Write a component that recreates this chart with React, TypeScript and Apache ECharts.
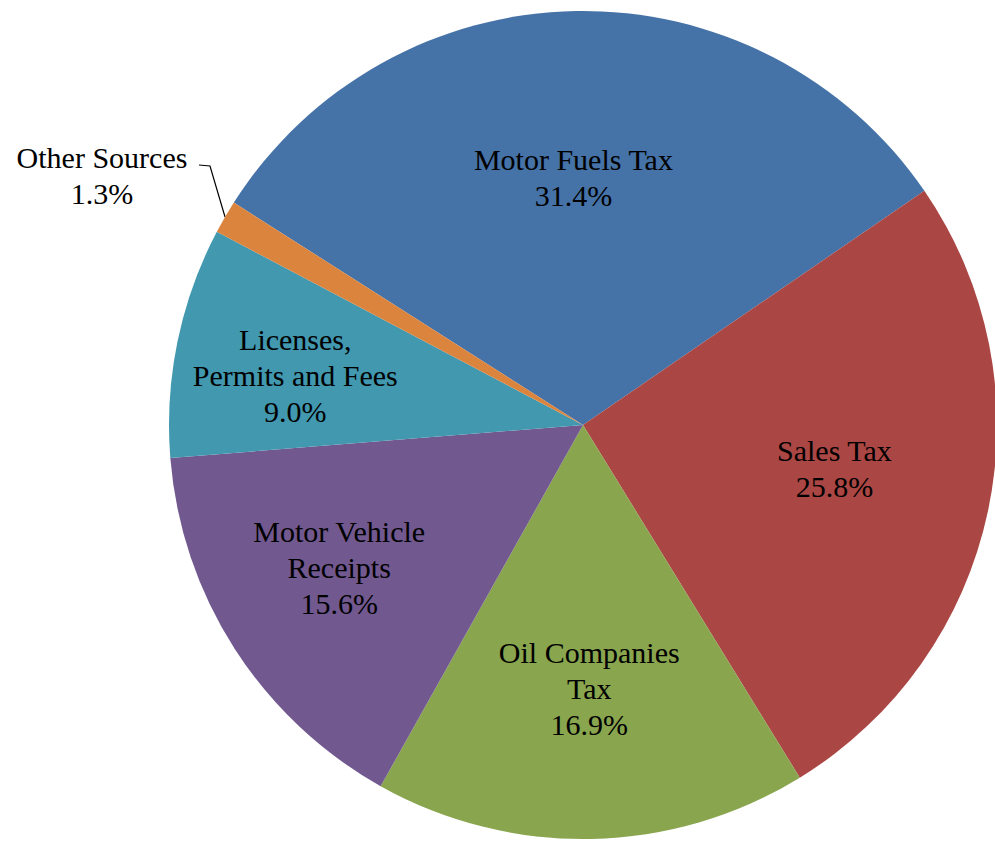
import React, { useEffect, useRef } from "react";
import * as echarts from "echarts";

const categories = [
  "Motor Fuels Tax",
  "Sales Tax",
  "Oil Companies\nTax",
  "Motor Vehicle\nReceipts",
  "Licenses,\nPermits and Fees",
  "Other Sources",
];
const shares = [31.4, 25.8, 16.9, 15.6, 9.0, 1.3];
const colors = ["#4572A7", "#AA4643", "#89A54E", "#71588F", "#4198AF", "#DB843D"];
// label nudges (style only): [dx, dy]
const labelNudges = [
  [-6, -38],
  [46, 0],
  [2, 54],
  [-67, 29],
  [-82, -7],
  [0, 0],
];

const CX = 583;
const CY = 425;
const R = 414;
const START = 147.5;

export default function App() {
  const ref = useRef<HTMLDivElement>(null);
  useEffect(() => {
    if (!ref.current) return;
    const chart = echarts.init(ref.current, null, { renderer: "svg" });
    const total = shares.reduce((a, b) => a + b, 0);
    const data = shares.map((v, i) => {
      const item: any = {
        name: categories[i],
        value: v,
        itemStyle: { color: colors[i] },
      };
      if (i === shares.length - 1) {
        item.label = { position: "outside", align: "center" };
        item.labelLine = { show: true, length: 10, length2: 10 };
      }
      return item;
    });
    chart.setOption({
      animation: false,
      series: [
        {
          type: "pie",
          center: [CX, CY],
          radius: [0, R],
          startAngle: START,
          clockwise: true,
          avoidLabelOverlap: false,
          data,
          label: {
            show: true,
            position: "inside",
            formatter: (p: any) => `${p.name}\n${Number(p.value).toFixed(1)}%`,
            fontFamily: "Liberation Serif",
            fontSize: 30,
            lineHeight: 36,
            color: "#000",
            align: "center",
          },
          labelLine: {
            show: false,
            lineStyle: { color: "#000", width: 1.2 },
          },
          emphasis: { disabled: true },
          labelLayout: (params: any) => {
            const i = params.dataIndex;
            if (i === shares.length - 1) {
              const before = shares.slice(0, i).reduce((a, b) => a + b, 0);
              const mid = START - ((before + shares[i] / 2) / total) * 360;
              const rad = (mid * Math.PI) / 180;
              const ex = CX + R * Math.cos(rad);
              const ey = CY - R * Math.sin(rad);
              const lx = 102;
              const ly = 175;
              const rightEdge = 197;
              return {
                x: lx,
                y: ly,
                align: "center",
                verticalAlign: "middle",
                labelLinePoints: [
                  [ex, ey],
                  [rightEdge + 13, ly - 9],
                  [rightEdge + 2, ly - 10],
                ],
              };
            }
            return { dx: labelNudges[i][0], dy: labelNudges[i][1] };
          },
        },
      ],
    });
    return () => chart.dispose();
  }, []);
  return (
    <div
      ref={ref}
      style={{ position: "absolute", left: 0, top: 0, width: 995, height: 844, background: "#fff" }}
    />
  );
}
